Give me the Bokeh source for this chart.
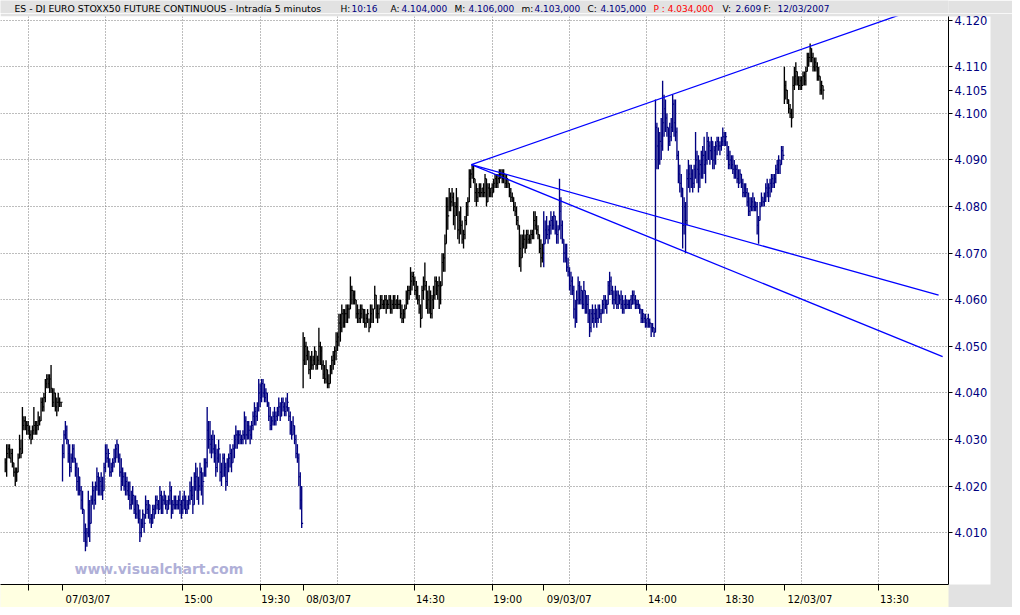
import numpy as np
from bokeh.plotting import figure
from bokeh.layouts import column
from bokeh.models import ColumnDataSource, FixedTicker, Range1d, Label
from bokeh.core.properties import value
from bokeh.embed import file_html
from bokeh.resources import INLINE

# ---------------- data (index points, 5-minute bars) ----------------
session_dates = ["06/03/07", "07/03/07", "08/03/07", "09/03/07", "12/03/07"]
day_colors = ["#000000", "#000080", "#000000", "#000080", "#000000"]

H06 = [4026,4029,4029,4029,4028,4028,4025,4024,4024,4027,4031,4030,4037,4035,4035,4034,4034,4033,4032,4033,
       4037,4034,4034,4036,4035,4039,4039,4040,4043,4044,4044,4044,4046,4041,4041,4040,4039,4040,4039,4038]
L06 = [4023,4022,4026,4026,4025,4024,4022,4020,4021,4023,4026,4026,4027,4032,4032,4031,4031,4030,4029,4030,
       4031,4031,4031,4032,4033,4034,4036,4036,4038,4041,4041,4040,4040,4037,4037,4036,4035,4036,4037,4037]
C06 = [4025,4027,4028,4026,4027,4025,4023,4021,4023,4026,4028,4027,4033,4034,4033,4033,4032,4031,4030,4032,
       4033,4032,4033,4034,4034,4038,4037,4039,4042,4043,4042,4043,4041,4038,4040,4037,4038,4038,4038,4038]

H07 = [4029,4032,4034,4033,4030,4029,4027,4029,4029,4026, 4025,4024,4022,4020,4019,4015,4012,4011,4019,4017,
       4018,4021,4020,4021,4024,4023,4022,4023,4022,4025, 4029,4029,4028,4026,4025,4026,4028,4029,4030,4029,
       4027,4026,4024,4023,4023,4022,4021,4021,4019,4020, 4018,4018,4017,4016,4015,4013,4015,4014,4018,4017,
       4017,4016,4014,4016,4016,4018,4018,4017,4020,4019, 4018,4019,4018,4017,4018,4021,4020,4017,4018,4018,
       4017,4018,4019,4017,4018,4019,4018,4017,4018,4021, 4022,4020,4023,4025,4024,4022,4025,4024,4023,4026,
       4026,4037,4034,4034,4031,4032,4031,4029,4028,4030, 4027,4025,4027,4027,4025,4026,4027,4029,4028,4029,
       4031,4033,4032,4032,4032,4031,4032,4036,4035,4034, 4034,4033,4034,4036,4038,4037,4038,4043,4042,4043,
       4043,4042,4041,4040,4038,4037,4035,4036,4037,4036, 4037,4039,4038,4039,4039,4038,4039,4040,4037,4036,
       4034,4035,4033,4031,4029,4027,4023,4020]
L07 = [4021,4026,4030,4029,4025,4022,4023,4025,4025,4022, 4019,4018,4018,4015,4014,4008,4006,4007,4009,4008,
       4012,4016,4015,4016,4019,4018,4018,4018,4017,4019, 4023,4025,4024,4022,4022,4023,4024,4025,4026,4025,
       4022,4019,4020,4019,4018,4018,4017,4015,4015,4016, 4014,4013,4013,4012,4008,4009,4011,4010,4013,4014,
       4013,4012,4011,4012,4013,4014,4015,4014,4015,4014, 4014,4016,4015,4014,4015,4016,4013,4014,4015,4015,
       4015,4015,4014,4013,4014,4015,4014,4014,4015,4016, 4017,4014,4016,4019,4017,4016,4019,4018,4016,4022,
       4022,4024,4028,4027,4026,4027,4025,4022,4023,4025, 4021,4020,4022,4022,4019,4020,4023,4024,4023,4025,
       4026,4028,4028,4029,4029,4029,4029,4030,4029,4030, 4030,4029,4030,4032,4033,4033,4034,4036,4037,4038,
       4039,4038,4038,4037,4034,4032,4032,4033,4033,4033, 4034,4035,4034,4035,4036,4035,4035,4036,4034,4031,
       4030,4031,4029,4026,4025,4020,4015,4011]
C07 = [4027,4031,4032,4030,4027,4024,4026,4028,4026,4024, 4021,4022,4019,4017,4015,4010,4008,4010,4016,4012,
       4017,4019,4017,4020,4022,4019,4021,4020,4019,4024, 4027,4026,4027,4023,4024,4025,4026,4028,4029,4026,
       4023,4021,4022,4020,4021,4019,4018,4016,4017,4018, 4015,4014,4016,4013,4010,4012,4014,4012,4016,4015,
       4016,4013,4012,4015,4014,4017,4016,4015,4018,4016, 4017,4018,4016,4015,4017,4019,4015,4016,4017,4016,
       4016,4017,4016,4015,4017,4016,4015,4016,4017,4019, 4018,4016,4021,4022,4019,4020,4023,4020,4021,4024,
       4025,4032,4030,4029,4030,4028,4027,4024,4026,4028, 4023,4022,4026,4024,4021,4025,4026,4027,4025,4028,
       4030,4031,4030,4031,4030,4030,4031,4034,4031,4033, 4032,4031,4033,4035,4036,4035,4037,4040,4039,4042,
       4040,4039,4040,4038,4035,4033,4034,4035,4034,4035, 4036,4037,4035,4038,4037,4036,4037,4038,4035,4032,
       4031,4033,4030,4027,4026,4022,4017,4012]

H08 = [4053,4052,4051,4050,4049,4048,4049,4048,4050,4049, 4048,4054,4051,4050,4047,4046,4047,4045,4044,4046,
       4048,4049,4050,4053,4053,4057,4057,4059,4058,4058, 4059,4059,4059,4065,4063,4062,4062,4060,4059,4058,
       4059,4059,4058,4058,4057,4058,4056,4059,4059,4058, 4063,4061,4059,4059,4061,4061,4060,4061,4061,4060,
       4061,4061,4060,4061,4061,4060,4061,4060,4060,4059, 4058,4059,4062,4063,4063,4067,4066,4066,4065,4064,
       4063,4061,4059,4063,4065,4068,4064,4062,4063,4062, 4061,4063,4065,4065,4064,4065,4064,4070,4070,4074,
       4082,4082,4084,4083,4084,4083,4081,4084,4082,4079, 4080,4077,4075,4078,4081,4082,4088,4088,4089,4089,
       4086,4085,4084,4085,4085,4084,4085,4087,4086,4085, 4085,4084,4085,4086,4087,4087,4087,4088,4088,4088,
       4088,4087,4087,4086,4085,4084,4083,4082,4081,4080, 4078,4076,4074,4074,4075,4074,4075,4075,4074,4075,
       4075,4079,4079,4078,4076,4074,4073,4072]
L08 = [4041,4046,4046,4047,4044,4043,4045,4045,4046,4045, 4045,4046,4046,4045,4043,4042,4042,4041,4041,4042,
       4044,4045,4046,4047,4049,4050,4051,4053,4054,4054, 4055,4055,4056,4058,4059,4059,4059,4056,4055,4055,
       4055,4056,4055,4054,4054,4055,4053,4054,4055,4055, 4058,4056,4055,4056,4058,4058,4058,4058,4057,4058,
       4058,4057,4057,4058,4058,4058,4058,4058,4056,4055, 4055,4056,4058,4059,4060,4061,4062,4063,4061,4060,
       4059,4057,4054,4056,4060,4062,4058,4057,4057,4056, 4056,4058,4060,4061,4060,4058,4059,4063,4066,4066,
       4072,4075,4079,4079,4080,4076,4075,4078,4073,4072, 4074,4072,4071,4073,4076,4078,4081,4084,4086,4085,
       4081,4080,4081,4082,4082,4082,4082,4082,4080,4081, 4082,4082,4082,4083,4084,4084,4084,4085,4086,4085,
       4085,4084,4084,4084,4082,4081,4081,4079,4078,4076, 4075,4067,4066,4069,4071,4070,4071,4072,4072,4072,
       4073,4073,4075,4074,4073,4070,4067,4068]
C08 = [4047,4050,4048,4049,4045,4047,4046,4047,4049,4046, 4047,4050,4049,4046,4044,4043,4045,4042,4042,4045,
       4047,4048,4049,4051,4052,4055,4054,4057,4055,4057, 4057,4058,4058,4062,4062,4061,4060,4057,4057,4056,
       4057,4058,4056,4055,4056,4057,4054,4057,4058,4058, 4061,4057,4057,4058,4060,4059,4059,4060,4059,4059,
       4060,4058,4059,4060,4059,4060,4059,4059,4057,4056, 4057,4058,4060,4062,4062,4064,4065,4064,4062,4061,
       4060,4058,4056,4062,4064,4063,4059,4060,4058,4057, 4060,4061,4064,4062,4063,4060,4063,4068,4069,4072,
       4080,4078,4082,4081,4082,4078,4080,4080,4075,4077, 4076,4073,4074,4077,4080,4081,4086,4087,4088,4086,
       4083,4082,4083,4084,4083,4084,4083,4086,4081,4084, 4083,4084,4083,4085,4086,4085,4086,4087,4087,4086,
       4087,4085,4086,4085,4083,4082,4082,4080,4079,4077, 4076,4071,4069,4072,4073,4071,4074,4073,4073,4074,
       4074,4077,4076,4075,4074,4071,4069,4070]

H09 = [4079,4077,4078,4076,4077,4079,4078,4079,4078,4077, 4076,4086,4082,4077,4073,4072,4072,4069,4067,4066,
       4065,4063,4060,4062,4065,4064,4063,4062,4064,4062, 4061,4061,4058,4058,4059,4058,4059,4058,4059,4059,
       4058,4060,4061,4061,4060,4064,4066,4065,4063,4062, 4063,4062,4062,4061,4062,4061,4060,4061,4060,4060,
       4060,4061,4062,4062,4061,4060,4060,4059,4058,4058, 4057,4057,4056,4057,4056,4055,4055,4054,4103,4098,
       4097,4096,4099,4107,4104,4103,4100,4097,4098,4099, 4104,4103,4103,4097,4092,4089,4087,4084,4082,4081,
       4088,4090,4089,4089,4088,4089,4096,4092,4091,4090, 4092,4093,4095,4092,4096,4095,4094,4095,4094,4093,
       4094,4095,4095,4094,4095,4097,4096,4096,4094,4093, 4092,4091,4091,4090,4089,4089,4088,4088,4087,4086,
       4085,4085,4084,4083,4082,4082,4083,4082,4081,4081, 4078,4081,4083,4082,4083,4085,4086,4085,4086,4087,
       4087,4087,4089,4090,4091,4090,4093,4093]
L09 = [4067,4072,4073,4072,4073,4074,4075,4075,4074,4072, 4072,4075,4073,4072,4068,4068,4066,4065,4062,4061,
       4061,4056,4054,4055,4059,4059,4059,4058,4058,4057, 4057,4055,4052,4053,4055,4054,4055,4054,4055,4056,
       4055,4057,4057,4058,4057,4059,4061,4061,4059,4058, 4059,4058,4058,4059,4058,4057,4057,4058,4058,4058,
       4058,4058,4059,4059,4058,4058,4058,4057,4055,4055, 4055,4054,4054,4054,4054,4052,4053,4052,4053,4088,
       4088,4089,4090,4092,4095,4096,4095,4092,4093,4094, 4096,4095,4094,4090,4085,4083,4082,4071,4074,4070,
       4076,4084,4083,4084,4083,4084,4086,4085,4083,4084, 4086,4086,4087,4085,4089,4090,4089,4090,4088,4088,
       4089,4091,4092,4091,4092,4093,4093,4093,4090,4088, 4088,4088,4087,4086,4086,4085,4084,4085,4084,4082,
       4082,4082,4080,4078,4078,4079,4079,4079,4079,4074, 4072,4077,4080,4080,4080,4081,4082,4081,4082,4083,
       4084,4084,4085,4087,4087,4087,4089,4090]
C09 = [4072,4075,4074,4075,4076,4077,4076,4078,4075,4074, 4075,4079,4076,4073,4070,4069,4067,4066,4063,4064,
       4062,4058,4056,4060,4063,4060,4062,4059,4062,4058, 4059,4057,4054,4057,4056,4057,4058,4056,4058,4057,
       4057,4059,4060,4059,4059,4063,4064,4062,4060,4060, 4061,4059,4061,4060,4059,4058,4059,4060,4059,4059,
       4060,4059,4061,4060,4059,4059,4059,4058,4056,4057, 4056,4055,4056,4055,4055,4054,4054,4053,4097,4093,
       4090,4094,4093,4098,4101,4099,4097,4094,4095,4097, 4102,4098,4096,4091,4087,4085,4084,4076,4080,4077,
       4086,4087,4086,4087,4085,4088,4090,4088,4087,4089, 4090,4091,4089,4090,4094,4093,4092,4094,4090,4092,
       4093,4094,4093,4093,4094,4095,4094,4095,4091,4089, 4090,4089,4088,4087,4088,4086,4085,4087,4085,4083,
       4084,4083,4081,4079,4080,4081,4080,4081,4080,4076, 4077,4080,4082,4081,4082,4084,4083,4084,4085,4086,
       4085,4086,4088,4089,4090,4089,4092,4091]

H12 = [4110,4107,4105,4103,4102,4101,4108,4110,4111,4109,4108,4108,4108,4109,4109,4110,4113,4113,4115,4114,
       4113,4112,4112,4111,4110,4108,4107,4106]
L12 = [4102,4103,4102,4100,4099,4097,4099,4105,4106,4106,4105,4105,4105,4106,4106,4106,4109,4110,4111,4111,
       4109,4109,4109,4107,4107,4104,4104,4103]
C12 = [4106,4105,4103,4101,4100,4099,4106,4108,4109,4107,4106,4107,4106,4108,4107,4109,4112,4112,4114,4112,
       4110,4111,4110,4108,4108,4105,4106,4105]

highs = [H06, H07, H08, H09, H12]
lows = [L06, L07, L08, L09, L12]
closes = [C06, C07, C08, C09, C12]

# trend lines drawn on the chart: (session, bar-in-session, price) at both ends
trend_day0 = [2, 2, 2]
trend_bar0 = [117.5, 117.5, 117.5]
trend_p0 = [4089.0, 4089.0, 4089.0]
trend_day1 = [4, 4, 4]
trend_bar1 = [96.0, 107.7, 110.5]
trend_p1 = [4122.8, 4061.0, 4047.8]

# price axis
y_ticks = [4.010, 4.020, 4.030, 4.040, 4.050, 4.060, 4.070, 4.080, 4.090, 4.100, 4.110, 4.120]
y_tick_labels = ["4.010", "4.020", "4.030", "4.040", "4.050", "4.060",
                 "4.070", "4.080", "4.090", "4.100", "4.110", "4.120"]
last_price = 4.105
last_price_label = "4.105"

# time axis
x_tick_day = [0, 1, 1, 1, 2, 2, 2, 3, 3, 3, 4, 4]
x_tick_time = ["20:00", "08:00", "15:00", "19:30", "08:00", "14:30", "19:00",
               "08:00", "14:00", "18:30", "08:00", "13:30"]
x_tick_text = ["", "07/03/07", "15:00", "19:30", "08/03/07", "14:30", "19:00",
               "09/03/07", "14:00", "18:30", "12/03/07", "13:30"]

# header
header_title = "ES - DJ EURO STOXX50 FUTURE CONTINUOUS - Intradía 5 minutos"
header_texts = ["H:", "10:16", "A:", "4.104,000", "M:", "4.106,000", "m:", "4.103,000",
                "C:", "4.105,000", "P : 4.034,000", "V:", "2.609", "F:", "12/03/2007"]
header_colors = ["#000000", "#000080", "#000000", "#000080", "#000000", "#000080",
                 "#000000", "#000080", "#000000", "#000080", "#ff0000", "#000000", "#000080",
                 "#000000", "#000080"]
header_x = [340, 351, 390, 401, 454, 468, 521, 534, 587, 600, 653, 722, 735, 763, 777]

watermark = "www.visualchart.com"

# ---------------- build bars ----------------
BARS_PER_SESSION = 168
SESSION_OPEN_MIN = 8 * 60
BAR_MIN = 5


def bar_index(day, hhmm):
    h, m = map(int, hhmm.split(":"))
    return (day - 1) * BARS_PER_SESSION + (h * 60 + m - SESSION_OPEN_MIN) // BAR_MIN


xb, hb, lb, cb, colb = [], [], [], [], []
for k in range(len(highs)):
    n = len(highs[k])
    first = bar_index(k, "08:00") + (BARS_PER_SESSION - n if k == 0 else 0)
    for j in range(n):
        xb.append(first + j)
        hb.append(highs[k][j] / 1000.0)
        lb.append(lows[k][j] / 1000.0)
        cb.append(closes[k][j] / 1000.0)
        colb.append(day_colors[k])
xb = np.array(xb, dtype=float)
bars = ColumnDataSource(dict(x=xb, x1=xb + 1.0, h=hb, l=lb, c=cb, color=colb))

tx0 = [(d - 1) * BARS_PER_SESSION + b for d, b in zip(trend_day0, trend_bar0)]
tx1 = [(d - 1) * BARS_PER_SESSION + b for d, b in zip(trend_day1, trend_bar1)]
trend = ColumnDataSource(dict(x0=tx0, y0=[v / 1000 for v in trend_p0],
                              x1=tx1, y1=[v / 1000 for v in trend_p1]))

# ---------------- layout constants ----------------
W, H = 1012, 607
HDR_H = 13
TOP, BOTTOM, RIGHT = 3, 18, 64
MAIN_H = H - HDR_H
FRAME_W = W - RIGHT
FRAME_H = MAIN_H - TOP - BOTTOM
X0, X1 = -43.3, 618.6
Y0, Y1 = 3.99888, 4.1208
HDR_GRAY = "#e2e2e2"

# ---------------- header strip (frame aligned with the chart frame) ----------------
hdr = figure(width=W, height=HDR_H, x_range=Range1d(0, FRAME_W), y_range=Range1d(HDR_H, 0),
             output_backend="svg", toolbar_location=None,
             min_border_left=0, min_border_right=RIGHT, min_border_top=0, min_border_bottom=0,
             x_axis_location=None, y_axis_location=None)
hdr.background_fill_color = HDR_GRAY
hdr.border_fill_color = HDR_GRAY
hdr.outline_line_color = None
hdr.grid.visible = False
hdr.text(x=[14], y=[8], text=[header_title], text_color="#000000",
         text_font=value("DejaVu Sans"), text_font_size="9.3px", text_baseline="middle",
         text_align="left")
hdr.text(x=header_x, y=[8] * len(header_texts), text=header_texts, text_color=header_colors,
         text_font=value("DejaVu Sans"), text_font_size="9px", text_baseline="middle",
         text_align="left")

# ---------------- main chart ----------------
p = figure(width=W, height=MAIN_H, x_range=Range1d(X0, X1), y_range=Range1d(Y0, Y1),
           y_axis_location="right", output_backend="svg", toolbar_location=None,
           min_border_left=0, min_border_right=RIGHT, min_border_top=TOP,
           min_border_bottom=BOTTOM)
p.border_fill_color = HDR_GRAY
p.background_fill_color = "white"
p.outline_line_color = None

# grids
p.ygrid.ticker = FixedTicker(ticks=y_ticks)
p.xgrid.ticker = FixedTicker(ticks=list(range(bar_index(0, "20:00"), int(X1) + 1, 54)))
for g in (p.xgrid[0], p.ygrid[0]):
    g.grid_line_color = "#7a7a7a"
    g.grid_line_dash = "1 2"
    g.grid_line_width = 1

# right price axis (the last traded price is marked on it too)
yax = p.yaxis[0]
yax.ticker = FixedTicker(ticks=y_ticks + [last_price])
over = {t: s for t, s in zip(y_ticks, y_tick_labels)}
over[last_price] = last_price_label
yax.major_label_overrides = over
yax.major_tick_out = 4
yax.major_tick_in = 0
yax.minor_tick_out = 0
yax.minor_tick_in = 0
yax.major_label_standoff = 2
yax.major_label_text_font = "DejaVu Sans"
yax.major_label_text_font_size = "11.5px"
yax.major_label_text_color = "#000080"
yax.axis_line_color = "black"
yax.major_tick_line_color = "black"
yax.background_fill_color = "white"

# bottom time axis: labels sit to the right of their tick
bars_per_px = (X1 - X0) / FRAME_W
tick_pos = [bar_index(d, t) for d, t in zip(x_tick_day, x_tick_time)]
label_pos, label_over = [], {}
for pos, txt in zip(tick_pos, x_tick_text):
    if not txt:
        continue
    shift_px = (3 + 22.5) if "/" in txt else (1 + 14.5)
    c = round(pos + shift_px * bars_per_px, 3)
    label_pos.append(c)
    label_over[c] = txt
xax = p.xaxis[0]
xax.ticker = FixedTicker(ticks=label_pos, minor_ticks=tick_pos)
xax.major_label_overrides = label_over
xax.major_tick_out = 0
xax.major_tick_in = 0
xax.minor_tick_out = 6
xax.minor_tick_in = 0
xax.minor_tick_line_color = "black"
xax.major_label_standoff = 3
xax.major_label_text_font = "DejaVu Sans"
xax.major_label_text_font_size = "10px"
xax.major_label_text_color = "black"
xax.axis_line_color = "black"
xax.background_fill_color = "#ffffe1"

# price bars
p.segment(x0="x", y0="l", x1="x", y1="h", color="color", line_width=1.35, source=bars)
p.segment(x0="x", y0="c", x1="x1", y1="c", color="color", line_width=1.1, source=bars)

# trend lines
p.segment(x0="x0", y0="y0", x1="x1", y1="y1", color="#0000ff", line_width=1.3, source=trend)

# watermark
p.add_layout(Label(x=74, y=16, x_units="screen", y_units="screen", text=watermark,
                   text_font="DejaVu Sans", text_font_style="bold", text_font_size="14px",
                   text_color="#b0b0d8", text_baseline="middle"))

layout = column(hdr, p, spacing=0)
open("out.html", "w").write(file_html(layout, INLINE))
